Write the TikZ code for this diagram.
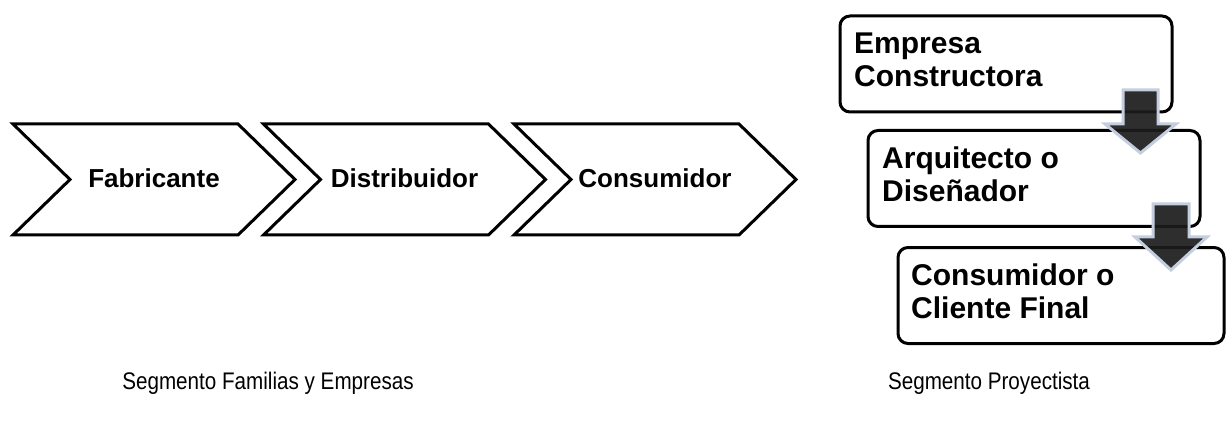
\documentclass[tikz,border=0pt]{standalone}
\usepackage{fontspec}
\setmainfont{Liberation Sans}
\definecolor{arrowborder}{RGB}{196,206,222}
\definecolor{arrowfill}{RGB}{28,28,28}
\newcommand{\condensed}[1]{\scalebox{0.86}[1]{#1}}
\tikzset{
  chev/.style={draw=black, line width=3pt, fill=white, line join=miter},
  chevtext/.style={font=\bfseries\fontsize{26}{30}\selectfont, inner sep=0pt, anchor=base},
  rbox/.style={draw=black, line width=3pt, rounded corners=10pt, fill=white, minimum width=332pt, minimum height=96pt, inner sep=0pt},
  boxtext/.style={font=\bfseries\fontsize{30}{33}\selectfont, align=left, inner sep=0pt, anchor=north west},
  seglabel/.style={font=\fontsize{24}{28}\selectfont, inner sep=0pt, anchor=base},
  blockarrow/.style={fill=arrowfill, fill opacity=0.92, draw=arrowborder, line width=3pt, line join=miter}
}
\begin{document}
\begin{tikzpicture}[x=1pt,y=-1pt]
\useasboundingbox (0,0) rectangle (1226,422);
% chevrons
\foreach \L/\nm/\txt in {13/c1/Fabricante, 263.5/c2/Distribuidor, 514/c3/Consumidor}{
  \draw[chev] (\L,124) -- ++(225,0) -- ++(57,55.5) -- ++(-57,55.5) -- ++(-225,0) -- ++(57,-55.5) -- cycle;
  \node[chevtext] (\nm) at (\L+141,187.5) {\txt};
}
% boxes
\node[rbox] (b1) at (1006,64) {};
\node[rbox] (b2) at (1034,178.5) {};
\node[rbox, minimum width=326pt] (b3) at (1061,295.5) {};
\node[boxtext] (t1) at (854,33) {Empresa\\Constructora};
\node[boxtext] (t2) at (882,147) {Arquitecto o\\Diseñador};
\node[boxtext] (t3) at (911,264) {Consumidor o\\Cliente Final};
% block arrows
\draw[blockarrow] (1123,90) -- (1158,90) -- (1158,124) -- (1176,124) -- (1140.5,153) -- (1105,124) -- (1123,124) -- cycle;
\draw[blockarrow] (1153,204) -- (1189,204) -- (1189,237) -- (1207,237) -- (1171,270) -- (1135,237) -- (1153,237) -- cycle;
% labels
\node[seglabel] (s1) at (268,389) {\condensed{Segmento Familias y Empresas}};
\node[seglabel] (s2) at (989,389) {\condensed{Segmento Proyectista}};
\end{tikzpicture}
\end{document}
